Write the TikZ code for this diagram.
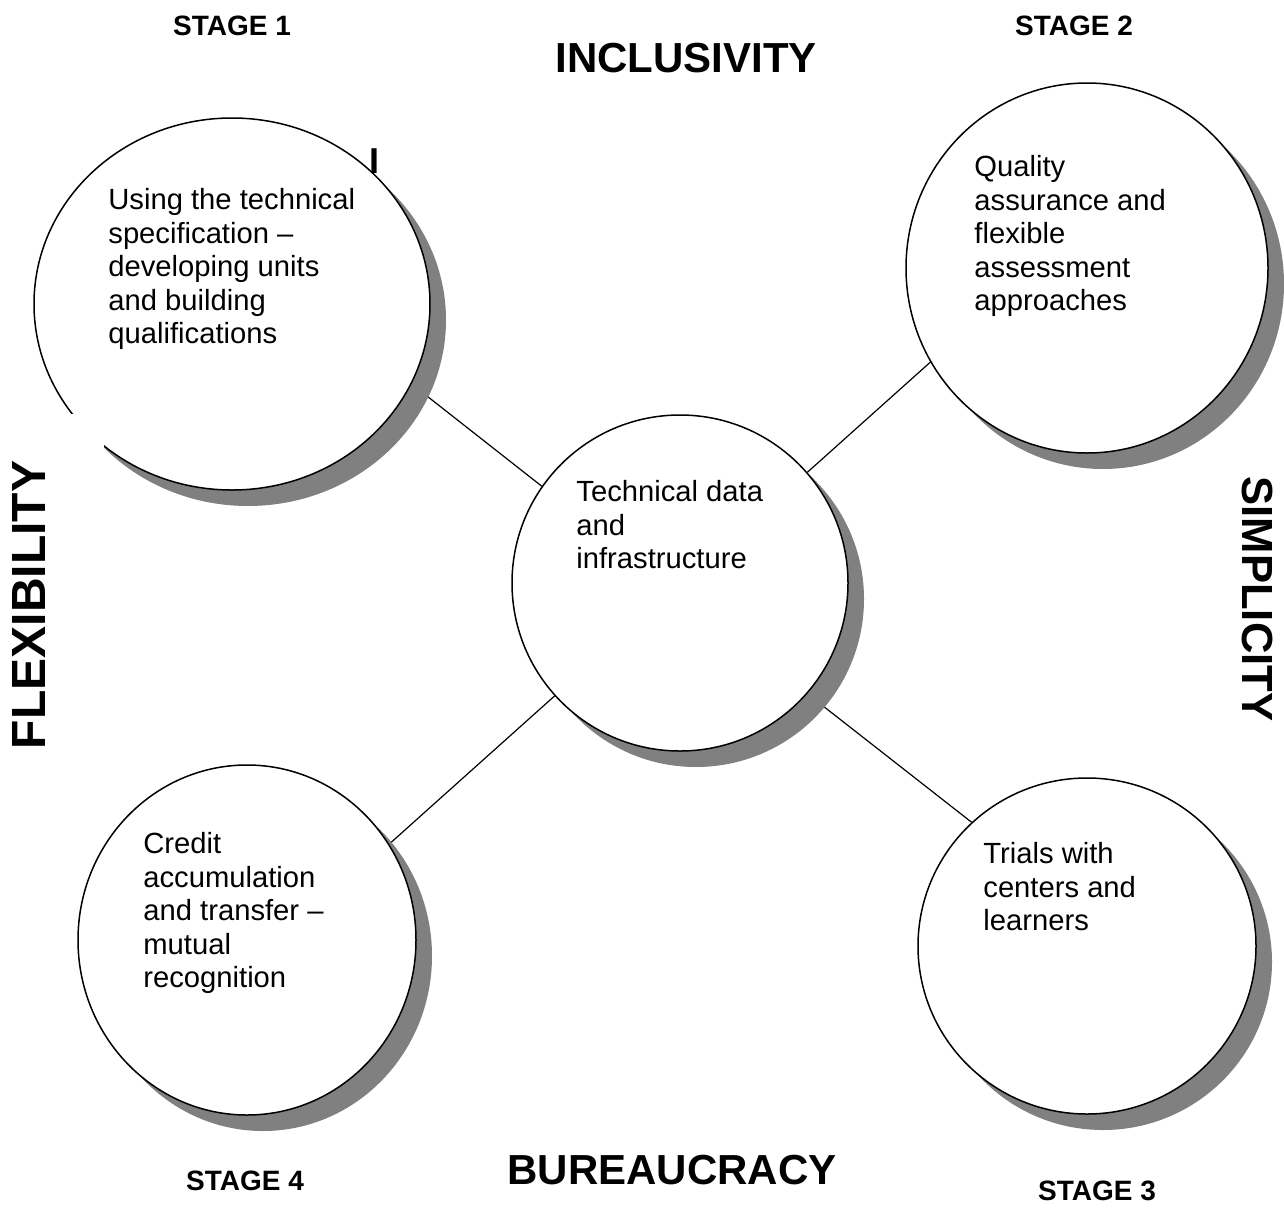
\documentclass[tikz,border=0pt]{standalone}
\usepackage{fontspec}
\setmainfont{Liberation Sans}
\usetikzlibrary{shapes.geometric,shadows}
\pgfdeclarelayer{bg}
\pgfsetlayers{bg,main}
\definecolor{shgray}{RGB}{128,128,128}
\begin{document}
\begin{tikzpicture}[x=0.5pt,y=-0.5pt,
  bubble/.style={ellipse, draw=black, line width=0.75pt, fill=white, inner sep=0pt,
    drop shadow={shadow xshift=8pt, shadow yshift=-8pt, fill=shgray, opacity=1}},
  btext/.style={anchor=north west, align=left, inner sep=0pt, font=\fontsize{14.6}{16.8}\selectfont},
  head/.style={font=\fontsize{14}{16}\selectfont\bfseries, inner sep=0pt, anchor=base},
  big/.style={font=\fontsize{21}{24}\selectfont\bfseries, inner sep=0pt, anchor=base},
  link/.style={draw=black, line width=0.6pt}]
\useasboundingbox (0,0) rectangle (1284,1221);

% bubbles
\node[bubble, minimum width=198pt, minimum height=186pt] (c1) at (232,304) {};
\fill[white] (0,414) rectangle (104,755);
\node[bubble, minimum width=181pt, minimum height=185pt] (c2) at (1087,268) {};
\node[bubble, minimum width=168pt, minimum height=168pt] (c0) at (680,583) {};
\node[bubble, minimum width=169pt, minimum height=175pt] (c4) at (247,940) {};
\node[bubble, minimum width=169pt, minimum height=168pt] (c5) at (1087,946) {};

% connectors behind
\begin{pgfonlayer}{bg}
\draw[link] (c1.-24) -- (c0.145);
\draw[link] (c0.41) -- (c2.211);
\draw[link] (c0.222.6) -- (c4.34);
\draw[link] (c0.-41.3) -- (c5.133);
\end{pgfonlayer}

% bubble texts
\node[btext] (t1) at (108,188) {Using the technical\\specification --\\developing units\\and building\\qualifications};
\node[btext] (t2) at (974,155) {Quality\\assurance and\\flexible\\assessment\\approaches};
\node[btext] (t0) at (576,480) {Technical data\\and\\infrastructure};
\node[btext] (t4) at (143,832) {Credit\\accumulation\\and transfer --\\mutual\\recognition};
\node[btext] (t5) at (983,842) {Trials with\\centers and\\learners};

% labels
\node[head] (s1) at (232,35) {STAGE 1};
\node[head] (s2) at (1074,35) {STAGE 2};
\node[head] (s4) at (245,1190) {STAGE 4};
\node[head] (s3) at (1097,1200) {STAGE 3};
\node[big] (inc) at (686,72) {INCLUSIVITY};
\node[big] (bur) at (672,1184) {BUREAUCRACY};
\node[big, rotate=90, font=\fontsize{24}{27}\selectfont\bfseries] (flex) at (46,605) {FLEXIBILITY};
\node[big, rotate=-90, font=\fontsize{21.8}{25}\selectfont\bfseries] (simp) at (1242,599) {SIMPLICITY};
\node[font=\fontsize{18}{20}\selectfont\bfseries, inner sep=0pt, anchor=base] (ibar) at (374.5,173) {I};
\end{tikzpicture}
\end{document}
